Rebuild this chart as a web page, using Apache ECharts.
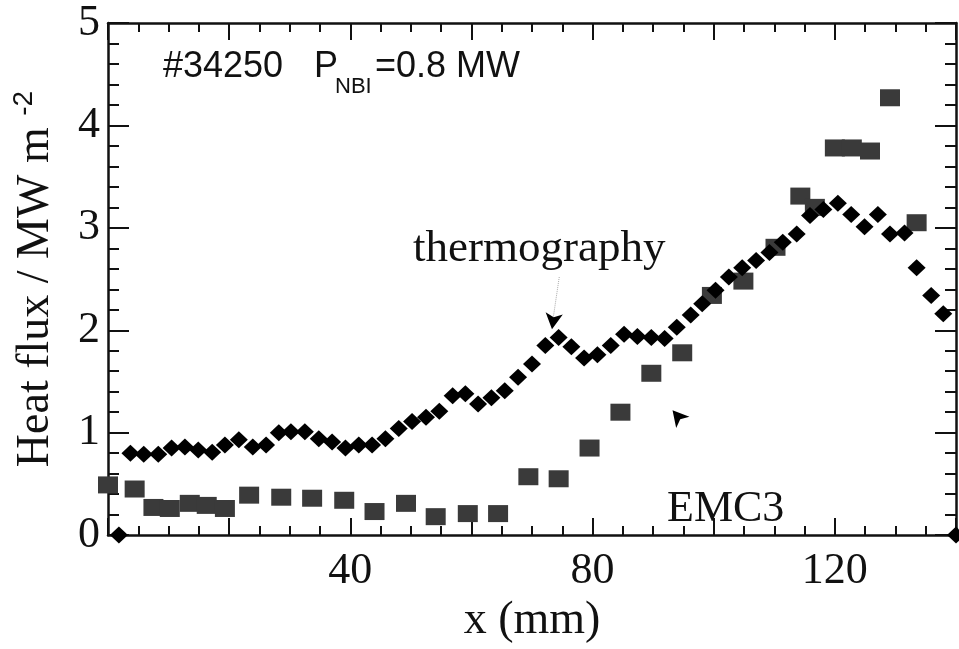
<!DOCTYPE html>
<html>
<head>
<meta charset="utf-8">
<script src="https://cdn.jsdelivr.net/npm/echarts@6/dist/echarts.min.js"></script>
<style>html,body{margin:0;padding:0;background:#fff}#c{width:959px;height:649px}</style>
</head>
<body>
<div id="c"></div>
<script>
// thermography (diamonds): [x mm, heat flux MW/m2]
const thermoX = [1.8,3.7,5.9,8.3,10.5,12.7,14.9,17.2,19.3,21.6,23.9,26.1,28.2,30.2,32.5,34.8,37.0,39.2,41.4,43.6,45.8,48.0,50.2,52.5,54.7,56.9,59.0,61.1,63.3,65.5,67.7,70.0,72.2,74.4,76.5,78.6,80.8,83.0,85.2,87.4,89.7,91.9,93.9,96.2,98.1,100.3,102.5,104.7,107.0,109.2,111.4,113.7,115.9,118.1,120.5,122.7,124.9,127.1,129.1,131.5,133.5,135.9,137.9,140.0];
const thermoY = [0.00,0.80,0.79,0.79,0.85,0.86,0.83,0.81,0.88,0.93,0.86,0.88,1.00,1.01,1.01,0.94,0.91,0.85,0.88,0.88,0.94,1.04,1.11,1.15,1.21,1.36,1.38,1.28,1.34,1.41,1.54,1.67,1.85,1.93,1.84,1.73,1.76,1.85,1.96,1.94,1.93,1.92,2.03,2.15,2.26,2.39,2.52,2.61,2.68,2.76,2.86,2.94,3.12,3.18,3.24,3.13,3.01,3.13,2.94,2.95,2.61,2.34,2.16,0.00];
// EMC3 (squares)
const emcX = [0.0,4.4,7.5,10.2,13.5,16.3,19.3,23.3,28.6,33.7,39.0,44.0,49.2,54.1,59.4,64.4,69.4,74.4,79.5,84.6,89.7,94.8,99.7,104.9,110.2,114.3,116.7,120.0,122.8,125.8,129.1,133.5];
const emcY = [0.49,0.45,0.27,0.26,0.31,0.29,0.26,0.39,0.37,0.36,0.34,0.23,0.31,0.18,0.21,0.21,0.57,0.55,0.85,1.20,1.58,1.78,2.34,2.48,2.81,3.31,3.20,3.78,3.78,3.75,4.27,3.05];
// axis settings
const xMin = 0, xMax = 140, xInterval = 20;
const yMin = 0, yMax = 5, yInterval = 1;
const xShownLabels = [40, 80, 120];
// annotation pointers (data coords)
const thermoPointerLine = [[74.5, 2.52], [73.4, 2.08]];
const arrowHeads = [
  {coord: [73.3, 2.01], rotate: 172},
  {coord: [93.2, 1.22], rotate: 40}
];

const serif = '"Liberation Serif", "Times New Roman", serif';
const sans = '"Liberation Sans", Arial, sans-serif';
const black = '#111';

function zip(a, b) { return a.map((v, i) => [v, b[i]]); }

const chart = echarts.init(document.getElementById('c'), null, {renderer: 'canvas'});

const tickCommon = (len, minorLen, split) => ({
  axisTick: {show: true, inside: true, length: len, lineStyle: {color: black, width: 2}},
  minorTick: {show: true, splitNumber: split, length: minorLen, lineStyle: {color: black, width: 2}},
  axisLine: {show: true, onZero: false, lineStyle: {color: black, width: 2.5}},
  splitLine: {show: false},
  minorSplitLine: {show: false}
});

const option = {
  backgroundColor: '#fff',
  animation: false,
  grid: {left: 108, top: 23, right: 2, bottom: 112, containLabel: false},
  xAxis: [
    Object.assign({
      type: 'value', position: 'bottom', min: xMin, max: xMax, interval: xInterval,
      name: 'x (mm)', nameLocation: 'middle', nameGap: 52,
      nameTextStyle: {fontFamily: serif, fontSize: 46, color: black},
      axisLabel: {
        show: true, margin: 14, fontFamily: serif, fontSize: 44, color: black,
        formatter: v => xShownLabels.indexOf(v) >= 0 ? String(v) : ''
      }
    }, tickCommon(17, 9, 4)),
    Object.assign({
      type: 'value', position: 'top', min: xMin, max: xMax, interval: xInterval,
      axisLabel: {show: false}
    }, tickCommon(17, 9, 4))
  ],
  yAxis: [
    Object.assign({
      type: 'value', position: 'left', min: yMin, max: yMax, interval: yInterval,
      name: '{a|Heat flux / MW m }{s|-2}', nameLocation: 'middle', nameGap: 46, nameRotate: 90,
      nameTextStyle: {
        fontFamily: serif, fontSize: 46, color: black,
        rich: {
          a: {fontFamily: serif, fontSize: 46, color: black, lineHeight: 52},
          s: {fontFamily: sans, fontSize: 28, color: black, verticalAlign: 'top', lineHeight: 28}
        }
      },
      axisLabel: {show: true, margin: 8, fontFamily: serif, fontSize: 44, color: black}
    }, tickCommon(21, 11, 5)),
    Object.assign({
      type: 'value', position: 'right', min: yMin, max: yMax, interval: yInterval,
      axisLabel: {show: false}
    }, tickCommon(21, 11, 5))
  ],
  series: [
    {
      name: 'EMC3', type: 'scatter', xAxisIndex: 0, yAxisIndex: 0,
      data: zip(emcX, emcY), symbol: 'rect', symbolSize: [20, 17],
      itemStyle: {color: '#3a3a3a', opacity: 1}, clip: false, z: 2
    },
    {
      name: 'thermography', type: 'scatter', xAxisIndex: 0, yAxisIndex: 0,
      data: zip(thermoX, thermoY), symbol: 'diamond', symbolSize: [18, 17],
      itemStyle: {color: '#000', opacity: 1}, clip: false, z: 3,
      markLine: {
        silent: true, symbol: ['none', 'none'],
        label: {show: false},
        lineStyle: {color: '#aaa', width: 1, type: 'dotted'},
        data: [[{coord: thermoPointerLine[0]}, {coord: thermoPointerLine[1]}]]
      },
      markPoint: {
        silent: true, symbol: 'arrow', symbolSize: [13, 16],
        itemStyle: {color: '#000'},
        label: {show: false},
        data: arrowHeads.map(a => ({coord: a.coord, symbolRotate: a.rotate}))
      }
    }
  ],
  graphic: [
    {type: 'text', left: 163, top: 49, style: {text: '#34250', font: '36px ' + sans, fill: black}},
    {type: 'text', left: 314, top: 49, style: {text: 'P', font: '36px ' + sans, fill: black}},
    {type: 'text', left: 335, top: 76, style: {text: 'NBI', font: '22px ' + sans, fill: black}},
    {type: 'text', left: 375, top: 49, style: {text: '=0.8 MW', font: '36px ' + sans, fill: black}},
    {type: 'text', left: 413, top: 227, style: {text: 'thermography', font: '45px ' + serif, fill: black}},
    {type: 'text', left: 667, top: 487, style: {text: 'EMC3', font: '44px ' + serif, fill: black}}
  ]
};
chart.setOption(option);
</script>
</body>
</html>
